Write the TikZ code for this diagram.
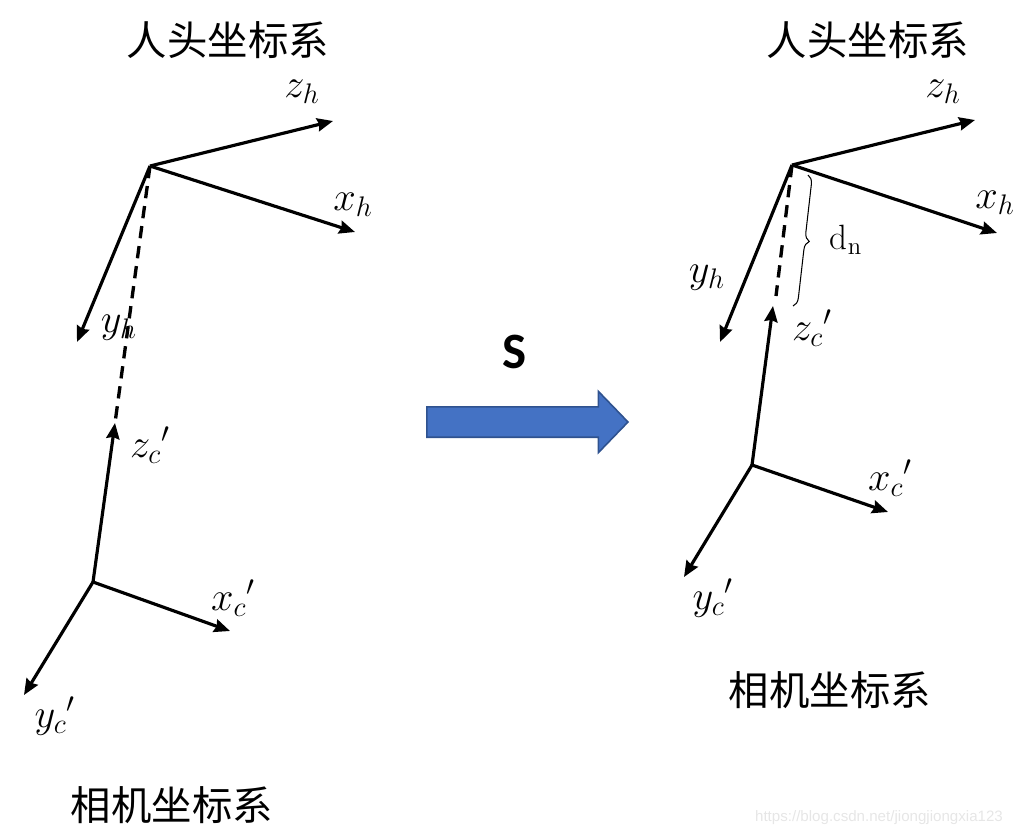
\RequirePackage{fix-cm}
\documentclass[tikz,border=0pt]{standalone}
\usepackage{amsmath}
\usepackage{fontspec}
\newfontfamily\cjk{Noto Sans CJK SC}
\newfontfamily\calfont{Carlito}
\newfontfamily\webfont{Liberation Sans}
\usetikzlibrary{arrows.meta,shapes.arrows,decorations.pathreplacing}
\definecolor{boxblue} {HTML}{4472C4}
\definecolor{boxedge} {HTML}{2F528F}
\definecolor{mark}    {HTML}{E6E6E6}
\tikzset{
  >=Stealth,
  % --- axes and links
  axis/.style    = {-{Stealth[length=9pt,width=7.5pt,inset=1pt]}, line width=1.8pt},
  link/.style    = {line width=1.9pt, dash pattern=on 7pt off 4.5pt},
  gap/.style     = {decorate, decoration={brace,amplitude=5pt}, line width=0.6pt},
  % --- texts
  lbl/.style     = {font=\fontsize{23}{26}\selectfont, inner sep=0pt},
  sysname/.style = {font=\cjk\fontsize{23}{28}\selectfont, inner sep=0pt},
  bigarrow/.style= {single arrow, fill=boxblue, draw=boxedge, line width=0.9pt,
                    minimum height=114.5pt, minimum width=34pt, inner xsep=0pt,
                    inner ysep=8.2pt, single arrow head extend=8.8pt,
                    single arrow tip angle=92},
}
\begin{document}
\begin{tikzpicture}[x=0.02cm,y=-0.02cm]
  \useasboundingbox (0,0) rectangle (1020,836);
  % left: before
  \coordinate (H1) at (150,166);
  \coordinate (zh1) at (333,121);
  \coordinate (xh1) at (355,232);
  \coordinate (yh1) at (77,342);
  \coordinate (C1) at (93,582);
  \coordinate (zc1) at (115,423);
  \coordinate (xc1) at (230,631);
  \coordinate (yc1) at (24,695);
  % right: after
  \coordinate (H2) at (792,165);
  \coordinate (zh2) at (975,120);
  \coordinate (xh2) at (997,233);
  \coordinate (yh2) at (720,342);
  \coordinate (C2) at (752,465);
  \coordinate (zc2) at (773,306);
  \coordinate (xc2) at (888,512);
  \coordinate (yc2) at (684,577);
  \coordinate (end2) at (776,296);
  \coordinate (btop) at (808,175);
  \coordinate (bbot) at (793,306);

  \draw[link] (H1) -- (zc1);
  \draw[link] (H2) -- (end2);
  \foreach \o/\t in {H1/zh1,H1/xh1,H1/yh1,C1/zc1,C1/xc1,C1/yc1,
                     H2/zh2,H2/xh2,H2/yh2,C2/zc2,C2/xc2,C2/yc2}
    \draw[axis] (\o) -- (\t);
  \draw[gap] (btop) -- (bbot);

  \node[sysname] (head1) at (228,40) {人头坐标系};
  \node[sysname] (cam1) at (172,805) {相机坐标系};
  \node[sysname] (head2) at (868,40) {人头坐标系};
  \node[sysname] (cam2) at (830,690) {相机坐标系};

  \node[lbl] (lzh1) at (302,92) {$z_h$};
  \node[lbl] (lxh1) at (353,205) {$x_h$};
  \node[lbl] (lyh1) at (119,328) {$y_h$};
  \node[lbl] (lzc1) at (150,445) {${z_c}'$};
  \node[lbl] (lxc1) at (233,598) {${x_c}'$};
  \node[lbl] (lyc1) at (55,716) {${y_c}'$};

  \node[lbl] (lzh2) at (943,92) {$z_h$};
  \node[lbl] (lxh2) at (995,203) {$x_h$};
  \node[lbl] (lyh2) at (707,278) {$y_h$};
  \node[lbl] (lzc2) at (812,328) {${z_c}'$};
  \node[lbl] (lxc2) at (890,478) {${x_c}'$};
  \node[lbl] (lyc2) at (713,598) {${y_c}'$};
  \node[lbl,font=\fontsize{20}{24}\selectfont] (ldn) at (846,240) {$\mathrm{d_n}$};

  \node[inner sep=0pt,font=\calfont\bfseries\fontsize{29}{32}\selectfont] (s) at (515,352) {S};
  \node[bigarrow,anchor=west] (move) at (426,422) {};

  \node[inner sep=0pt,text=mark,font=\webfont\fontsize{8.6}{10}\selectfont] (url) at (879,818)
    {https://blog.csdn.net/jiongjiongxia123};
\end{tikzpicture}
\end{document}
